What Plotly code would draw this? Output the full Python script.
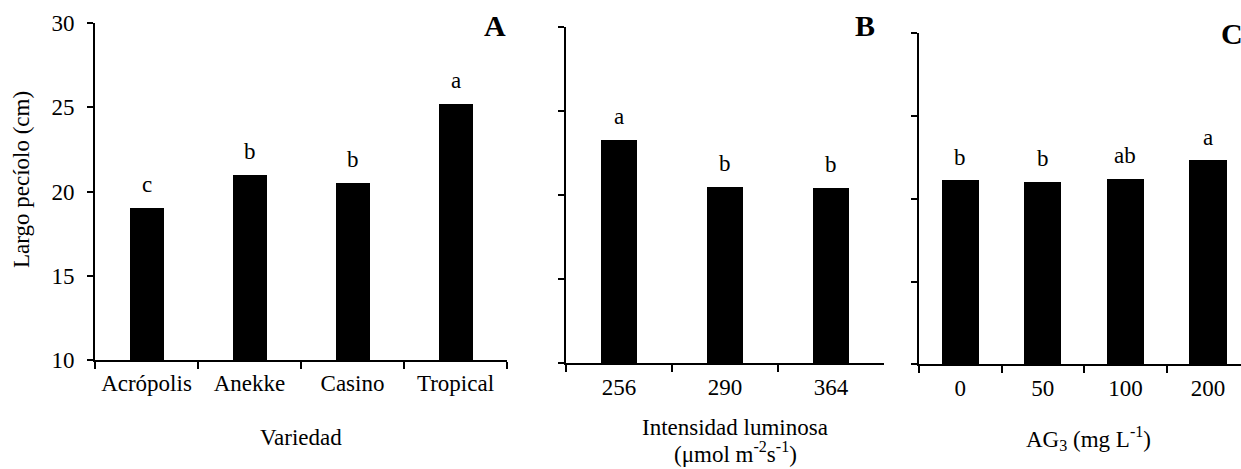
import plotly.graph_objects as go

W, H = 1241, 469

# Panel A: petiole length by variety
variedad = ["Acrópolis", "Anekke", "Casino", "Tropical"]
largo_variedad = [19.0, 21.0, 20.5, 25.2]
letras_variedad = ["c", "b", "b", "a"]

# Panel B: petiole length by light intensity
intensidad = ["256", "290", "364"]
largo_intensidad = [23.3, 20.5, 20.45]
letras_intensidad = ["a", "b", "b"]

# Panel C: petiole length by gibberellic acid dose
ag3 = ["0", "50", "100", "200"]
largo_ag3 = [21.1, 21.0, 21.2, 22.3]
letras_ag3 = ["b", "b", "ab", "a"]

y_range = [10, 30]
y_ticks = [10, 15, 20, 25, 30]

FONT = "Liberation Serif"
TICK_SIZE = 23


def px_x(x):
    return x / W


def px_y(y):
    return 1 - y / H


fig = go.Figure()

panels = [
    # (categories, values, letters, x-axis px span, y-axis px span, bar width, x range, show y labels)
    (variedad, largo_variedad, letras_variedad, (95, 507), (23, 360), 0.33, [-0.5, 3.5], True),
    (intensidad, largo_intensidad, letras_intensidad, (566, 884), (27, 363.3), 0.34, [-0.5, 2.5], False),
    (ag3, largo_ag3, letras_ag3, (919, 1241), (33.3, 364.3), 0.45, [-0.5, 3.4], False),
]

for i, (cats, vals, letters, xs, ys, bw, xr, show_y) in enumerate(panels, start=1):
    xa = "x" if i == 1 else f"x{i}"
    ya = "y" if i == 1 else f"y{i}"
    fig.add_trace(go.Bar(
        x=cats, y=vals, xaxis=xa, yaxis=ya, width=bw,
        marker=dict(color="black", line=dict(width=0)),
        showlegend=False, hoverinfo="x+y",
    ))
    # significance letters, placed by category index above each bar
    for k, (v, t) in enumerate(zip(vals, letters)):
        fig.add_annotation(
            x=k, y=v, xref=xa, yref=ya, text=t, showarrow=False,
            xanchor="center", yanchor="bottom", yshift=9,
            font=dict(family=FONT, size=TICK_SIZE, color="black"),
        )
    xkey = "xaxis" if i == 1 else f"xaxis{i}"
    ykey = "yaxis" if i == 1 else f"yaxis{i}"
    fig.update_layout(**{
        xkey: dict(
            domain=[px_x(xs[0]), px_x(xs[1])], anchor=ya,
            type="category", range=xr, automargin=False,
            showline=True, linecolor="black", linewidth=1.6,
            ticks="outside", tickson="boundaries", ticklen=7,
            tickwidth=1.6, tickcolor="black", ticklabelstandoff=2,
            showgrid=False, zeroline=False,
            tickfont=dict(family=FONT, size=TICK_SIZE, color="black"),
        ),
        ykey: dict(
            domain=[px_y(ys[1]), px_y(ys[0])], anchor=xa,
            range=y_range, tickvals=y_ticks, automargin=False,
            showticklabels=show_y, ticklabelstandoff=8,
            showline=True, linecolor="black", linewidth=1.6,
            ticks="outside", ticklen=6, tickwidth=1.6, tickcolor="black",
            showgrid=False, zeroline=False,
            tickfont=dict(family=FONT, size=TICK_SIZE, color="black"),
        ),
    })

# Axis titles
title_font = dict(family=FONT, size=TICK_SIZE, color="black")
titles = [
    ("Largo pecíolo (cm)", 21, 180, -90),
    ("Variedad", 301, 437, 0),
    ("Intensidad luminosa", 735, 427, 0),
    ("(μmol m<sup>-2</sup>s<sup>-1</sup>)", 735, 452, 0),
    ("AG<sub>3</sub> (mg L<sup>-1</sup>)", 1088, 438, 0),
]
for txt, x, y, ang in titles:
    fig.add_annotation(x=px_x(x), y=px_y(y), xref="paper", yref="paper",
                       text=txt, textangle=ang, showarrow=False,
                       xanchor="center", yanchor="middle", font=title_font)

# Panel letters
letter_font = dict(family=FONT, size=30, color="black")
for txt, x, y, xanchor in [("<b>A</b>", 495, 26, "center"),
                           ("<b>B</b>", 865, 26, "center"),
                           ("<b>C</b>", 1219, 33, "left")]:
    fig.add_annotation(x=px_x(x), y=px_y(y), xref="paper", yref="paper",
                       text=txt, showarrow=False, xanchor=xanchor,
                       yanchor="middle", font=letter_font)

fig.update_layout(
    width=W, height=H,
    margin=dict(l=0, r=0, t=0, b=0, autoexpand=False),
    paper_bgcolor="white", plot_bgcolor="white",
    bargap=0,
)

fig.write_html("out.html")
